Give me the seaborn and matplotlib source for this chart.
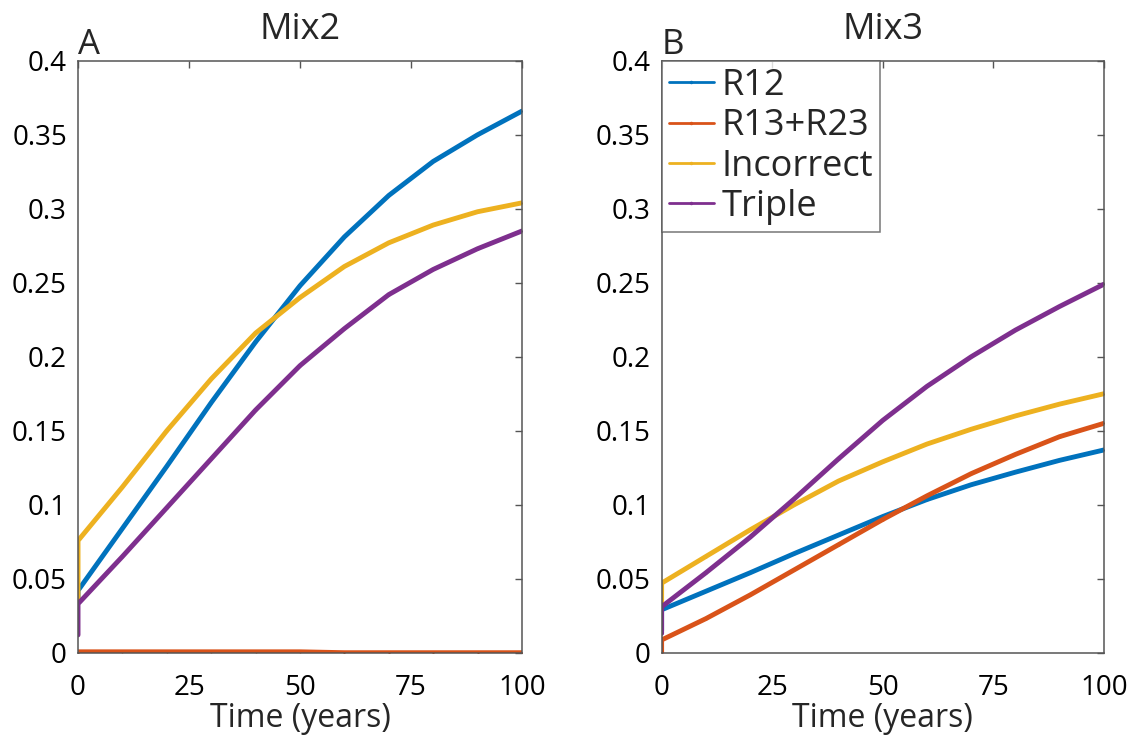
import numpy as np
import pandas as pd
import matplotlib
matplotlib.use("Agg")
import matplotlib.pyplot as plt
import seaborn as sns

# ---- data ----
time = [0, 0, 10, 20, 30, 40, 50, 60, 70, 80, 90, 100]

a_r12 = [0.035, 0.042, 0.084, 0.126, 0.169, 0.210, 0.248, 0.281, 0.309, 0.332, 0.350, 0.366]
a_r13r23 = [0.0, 0.0006, 0.0006, 0.0006, 0.0006, 0.0006, 0.0006, 0.0, 0.0, 0.0, 0.0, 0.0]
a_incorrect = [0.035, 0.0757, 0.112, 0.150, 0.185, 0.216, 0.240, 0.261, 0.277, 0.289, 0.298, 0.304]
a_triple = [0.012, 0.033, 0.065, 0.098, 0.131, 0.164, 0.194, 0.219, 0.242, 0.259, 0.273, 0.285]

b_r12 = [0.015, 0.029, 0.0415, 0.054, 0.067, 0.0795, 0.092, 0.1035, 0.1135, 0.122, 0.130, 0.137]
b_r13r23 = [0.0, 0.0086, 0.023, 0.039, 0.056, 0.073, 0.090, 0.106, 0.121, 0.134, 0.146, 0.155]
b_incorrect = [0.032, 0.047, 0.065, 0.083, 0.100, 0.116, 0.129, 0.141, 0.151, 0.160, 0.168, 0.175]
b_triple = [0.013, 0.031, 0.054, 0.078, 0.104, 0.131, 0.157, 0.180, 0.200, 0.218, 0.234, 0.249]

series_names = ["R12", "R13+R23", "Incorrect", "Triple"]
colors = ["#0072BD", "#D95319", "#EDB120", "#7E2F8E"]
panel_titles = ["Mix2", "Mix3"]
panel_letters = ["A", "B"]
x_ticks = [0, 25, 50, 75, 100]
y_ticks = [0, 0.05, 0.1, 0.15, 0.2, 0.25, 0.3, 0.35, 0.4]
y_ticklabels = ["0", "0.05", "0.1", "0.15", "0.2", "0.25", "0.3", "0.35", "0.4"]

panels = [
    [a_r12, a_r13r23, a_incorrect, a_triple],
    [b_r12, b_r13r23, b_incorrect, b_triple],
]

sns.set_theme(style="white")
plt.rcParams["font.family"] = ["Open Sans", "DejaVu Sans"]

fig = plt.figure(figsize=(11.31, 7.38), dpi=100)
ax_a = fig.add_axes([0.069, 0.1156, 0.3925, 0.802])
ax_b = fig.add_axes([0.585, 0.1156, 0.391, 0.802])
axes = [ax_a, ax_b]

for k, ax in enumerate(axes):
    for name, vals, col in zip(series_names, panels[k], colors):
        df = pd.DataFrame({"t": time, "v": vals})
        sns.lineplot(data=df, x="t", y="v", ax=ax, color=col, linewidth=3.5,
                     estimator=None, sort=False, label=name,
                     marker=".", markersize=3, markeredgewidth=0)
    ax.set_xlim(0, 100)
    ax.set_ylim(0, 0.4)
    ax.set_xticks(x_ticks)
    ax.set_xticklabels([str(t) for t in x_ticks])
    ax.set_yticks(y_ticks)
    ax.set_yticklabels(y_ticklabels)
    ax.tick_params(axis="both", direction="in", length=5, width=1, color="#555555",
                   labelsize=20, top=True, right=True, pad=8, labelcolor="black")
    ax.tick_params(axis="x", pad=15)
    for s in ax.spines.values():
        s.set_color("#555555")
        s.set_linewidth(1.1)
        s.set_visible(True)
    ax.set_xlabel("Time (years)", fontsize=23)
    ax.xaxis.set_label_coords(0.5, -0.084)
    ax.set_ylabel("")
    ax.set_title(panel_titles[k], fontsize=26, pad=16)
    ax.text(0.0, 0.998, panel_letters[k], transform=ax.transAxes, fontsize=25,
            ha="left", va="bottom")
    if k == 0:
        ax.get_legend().remove()
    else:
        leg = ax.legend(loc="upper left", bbox_to_anchor=(0.0, 1.0), borderaxespad=0,
                        fontsize=26, frameon=True, fancybox=False, handlelength=1.25,
                        handletextpad=0.2, labelspacing=0.12, borderpad=0.2)
        leg.get_frame().set_edgecolor("#555555")
        leg.get_frame().set_linewidth(1.1)
        for h in leg.get_lines():
            h.set_linewidth(2)
            h.set_markersize(5)

fig.savefig("out.png", dpi=100)
